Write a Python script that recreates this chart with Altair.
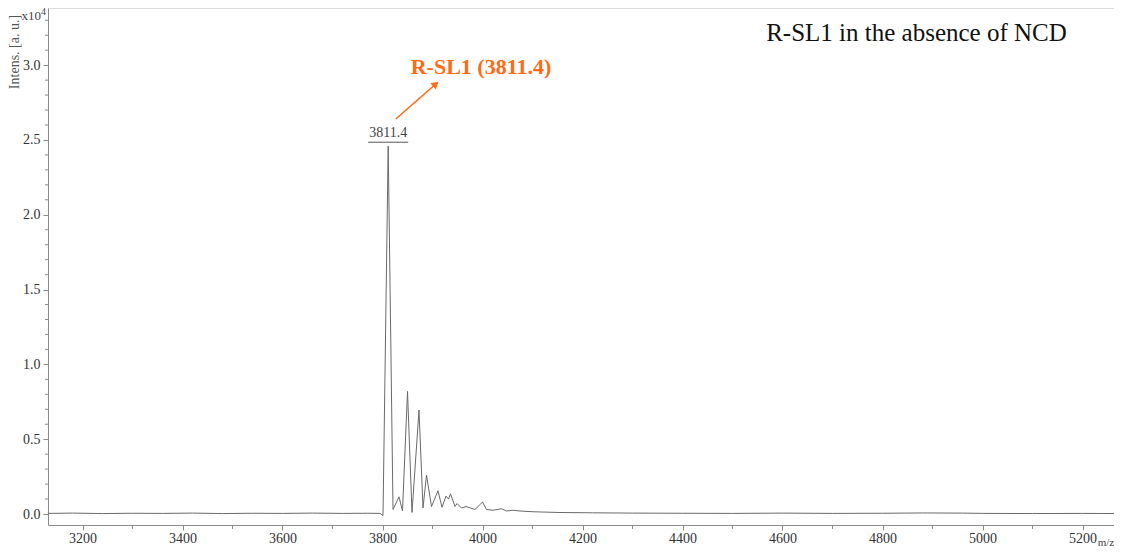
import altair as alt
import pandas as pd

# spectrum (m/z, intensity x10^4)
mz = [3131, 3180, 3240, 3300, 3360, 3420, 3480, 3540, 3600, 3660, 3720, 3770, 3795,
      3801, 3811.4, 3821, 3833, 3840, 3850, 3859, 3873, 3881, 3888, 3898, 3911, 3919,
      3927, 3932, 3936, 3945, 3949, 3958, 3967, 3985, 4000, 4008, 4021, 4038, 4048,
      4061, 4075, 4101, 4155, 4220, 4300, 4400, 4500, 4600, 4700, 4800, 4880, 4960,
      5000, 5100, 5200, 5263]
intensity = [0.004, 0.006, 0.003, 0.005, 0.004, 0.006, 0.003, 0.005, 0.004, 0.006, 0.004,
             0.005, 0.004,
             -0.01, 2.46, 0.03, 0.115, 0.02, 0.82, 0.01, 0.695, 0.04, 0.26, 0.05, 0.155, 0.045,
             0.12, 0.10, 0.135, 0.05, 0.07, 0.04, 0.05, 0.03, 0.08, 0.03, 0.025, 0.035, 0.02,
             0.025, 0.02, 0.015, 0.01, 0.008, 0.006, 0.005, 0.004, 0.006, 0.004, 0.005, 0.007, 0.006,
             0.004, 0.003, 0.004, 0.003]

x_major = [3200, 3400, 3600, 3800, 4000, 4200, 4400, 4600, 4800, 5000, 5200]
x_minor = [3300, 3500, 3700, 3900, 4100, 4300, 4500, 4700, 4900, 5100]
y_major = [0.0, 0.5, 1.0, 1.5, 2.0, 2.5, 3.0]
y_minor = [0.1, 0.2, 0.3, 0.4, 0.6, 0.7, 0.8, 0.9, 1.1, 1.2, 1.3, 1.4, 1.6, 1.7, 1.8, 1.9,
           2.1, 2.2, 2.3, 2.4, 2.6, 2.7, 2.8, 2.9, 3.1, 3.2, 3.3]

peak_label = "3811.4"
peak_mz = 3811.4
peak_int = 2.46
annot_text = "R-SL1 (3811.4)"
title_text = "R-SL1 in the absence of NCD"

XDOM = [3131, 5263]
YDOM = [-0.0735, 3.382]
W, H = 1066, 517
SERIF = "Liberation Serif"
GRAY = "#8a8a8a"
ORANGE = "#FF6A13"

xs = alt.Scale(domain=XDOM, nice=False, zero=False)
ys = alt.Scale(domain=YDOM, nice=False, zero=False)
X_AX = alt.Axis(values=x_major, format="d", title=None, labelFont=SERIF,
                labelFontSize=14, labelColor="#333", tickColor=GRAY,
                domainColor=GRAY, tickSize=5, grid=False, labelPadding=1)
Y_AX = alt.Axis(values=y_major, format=".1f", title=None, labelFont=SERIF,
                labelFontSize=14, labelColor="#333", tickColor=GRAY,
                domainColor=GRAY, tickSize=5, grid=False, labelPadding=3)


def X(f):
    return alt.X(f, type="quantitative", scale=xs, axis=X_AX)


def Y(f):
    return alt.Y(f, type="quantitative", scale=ys, axis=Y_AX)


df = pd.DataFrame({"mz": mz, "intensity": intensity})
line = alt.Chart(df).mark_line(color="#6a6a6a", strokeWidth=1, clip=True).encode(
    x=X("mz"), y=Y("intensity"))

minor_x = alt.Chart(pd.DataFrame({"v": x_minor})).mark_rule(color=GRAY).encode(
    x=X("v"), y=alt.value(H), y2=alt.value(H + 4))
minor_y = alt.Chart(pd.DataFrame({"v": y_minor})).mark_rule(color=GRAY).encode(
    y=Y("v"), x=alt.value(-3), x2=alt.value(0))

pk = pd.DataFrame({"mz": [peak_mz], "y": [peak_int + 0.03], "t": [peak_label]})
pk_text = alt.Chart(pk).mark_text(font=SERIF, fontSize=14, color="#444",
                                  baseline="bottom", dy=-1).encode(
    x=X("mz"), y=Y("y"), text="t:N")
ul = pd.DataFrame({"x1": [peak_mz - 40], "x2": [peak_mz + 40], "y": [peak_int + 0.025]})
pk_ul = alt.Chart(ul).mark_rule(color="#555", strokeWidth=1).encode(
    x=X("x1"), x2="x2:Q", y=Y("y"))

arrow = pd.DataFrame({"x1": [3826.6], "y1": [2.64], "x2": [3906.6], "y2": [2.874]})
arr_line = alt.Chart(arrow).mark_rule(color=ORANGE, strokeWidth=1.6).encode(
    x=X("x1"), y=Y("y1"), x2="x2:Q", y2="y2:Q")
arr_head = alt.Chart(arrow).mark_point(shape="triangle-up", filled=True, color=ORANGE,
                                       size=70, angle=49, opacity=1).encode(
    x=X("x2"), y=Y("y2"))

ann = pd.DataFrame({"x": [3997], "y": [2.99], "t": [annot_text]})
ann_text = alt.Chart(ann).mark_text(font=SERIF, fontSize=22, fontWeight="bold",
                                    color=ORANGE).encode(
    x=X("x"), y=Y("y"), text="t:N")

tt = pd.DataFrame({"x": [4868], "y": [3.215], "t": [title_text]})
title = alt.Chart(tt).mark_text(font=SERIF, fontSize=25, color="#111").encode(
    x=X("x"), y=Y("y"), text="t:N")

ylab = alt.Chart(pd.DataFrame({"t": ["Intens. [a. u.]"]})).mark_text(
    font=SERIF, fontSize=14, color="#555", angle=270, align="center", baseline="middle"
).encode(x=alt.value(-33), y=alt.value(44), text="t:N")
x10 = alt.Chart(pd.DataFrame({"t": ["x10"]})).mark_text(
    font=SERIF, fontSize=13, color="#444", align="right", baseline="alphabetic"
).encode(x=alt.value(-7), y=alt.value(12), text="t:N")
sup = alt.Chart(pd.DataFrame({"t": ["4"]})).mark_text(
    font=SERIF, fontSize=10, color="#444", align="left", baseline="alphabetic"
).encode(x=alt.value(-7), y=alt.value(7), text="t:N")
mzlab = alt.Chart(pd.DataFrame({"t": ["m/z"]})).mark_text(
    font=SERIF, fontSize=11, color="#444", align="center", baseline="bottom"
).encode(x=alt.value(1058), y=alt.value(540), text="t:N")

chart = alt.layer(
    line, minor_x, minor_y, pk_ul, pk_text, arr_line, arr_head, ann_text, title,
    ylab, x10, sup, mzlab
).properties(
    width=W, height=H,
    autosize=alt.AutoSizeParams(type="none"),
    padding={"left": 40, "top": 0, "right": 0, "bottom": 23},
).configure_view(stroke=GRAY, strokeWidth=1).configure(background="white")

chart.save("out.html", embed_options={"renderer": "svg", "actions": False})
